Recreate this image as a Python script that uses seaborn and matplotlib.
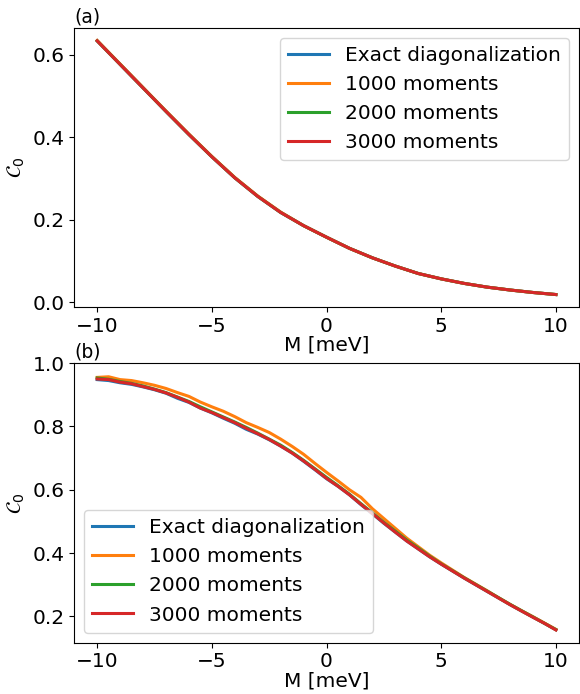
import numpy as np
import pandas as pd
import matplotlib
matplotlib.use("Agg")
import matplotlib.pyplot as plt
import seaborn as sns

labels = ["Exact diagonalization", "1000 moments", "2000 moments", "3000 moments"]

# panel (a): all four curves lie on top of each other
m_top = [-10, -9, -8, -7, -6, -5, -4, -3, -2, -1, 0, 1, 2, 3, 4, 5, 6, 7, 8, 9, 10]
top_exact = [0.634, 0.577, 0.520, 0.463, 0.407, 0.353, 0.302, 0.257, 0.218, 0.186, 0.158,
             0.131, 0.108, 0.088, 0.070, 0.057, 0.046, 0.037, 0.030, 0.024, 0.019]
top_1000 = [0.635, 0.578, 0.521, 0.464, 0.408, 0.354, 0.303, 0.258, 0.219, 0.186, 0.158,
            0.131, 0.108, 0.088, 0.070, 0.057, 0.046, 0.037, 0.030, 0.024, 0.019]
top_2000 = [0.634, 0.577, 0.520, 0.463, 0.407, 0.353, 0.302, 0.257, 0.218, 0.186, 0.158,
            0.131, 0.108, 0.088, 0.070, 0.057, 0.046, 0.037, 0.030, 0.024, 0.019]
top_3000 = [0.634, 0.577, 0.520, 0.463, 0.407, 0.353, 0.302, 0.257, 0.218, 0.186, 0.158,
            0.131, 0.108, 0.088, 0.070, 0.057, 0.046, 0.037, 0.030, 0.024, 0.019]

# panel (b)
m_bot = [-10, -9.5, -9, -8.5, -8, -7.5, -7, -6.5, -6, -5.5, -5, -4.5, -4, -3.5, -3, -2.5, -2,
         -1.5, -1, -0.5, 0, 0.5, 1, 1.5, 2, 2.5, 3, 3.5, 4, 4.5, 5, 5.5, 6, 6.5, 7, 7.5, 8,
         8.5, 9, 9.5, 10]
bot_exact = [0.948, 0.945, 0.938, 0.933, 0.925, 0.916, 0.905, 0.889, 0.876, 0.858, 0.843,
             0.826, 0.810, 0.791, 0.776, 0.758, 0.738, 0.716, 0.690, 0.663, 0.635, 0.611,
             0.584, 0.553, 0.524, 0.494, 0.466, 0.438, 0.413, 0.388, 0.365, 0.343, 0.321,
             0.300, 0.279, 0.258, 0.237, 0.217, 0.198, 0.178, 0.158]
bot_1000 = [0.955, 0.957, 0.948, 0.945, 0.938, 0.930, 0.920, 0.907, 0.895, 0.877, 0.862,
            0.848, 0.831, 0.812, 0.797, 0.781, 0.760, 0.737, 0.712, 0.683, 0.655, 0.628,
            0.600, 0.576, 0.540, 0.509, 0.478, 0.447, 0.420, 0.393, 0.369, 0.346, 0.323,
            0.302, 0.281, 0.259, 0.238, 0.218, 0.199, 0.179, 0.159]
bot_2000 = [0.953, 0.949, 0.942, 0.936, 0.928, 0.918, 0.907, 0.893, 0.879, 0.862, 0.846,
            0.830, 0.814, 0.797, 0.779, 0.760, 0.741, 0.718, 0.693, 0.666, 0.639, 0.613,
            0.586, 0.556, 0.527, 0.497, 0.469, 0.441, 0.416, 0.390, 0.366, 0.344, 0.322,
            0.301, 0.280, 0.259, 0.238, 0.218, 0.198, 0.178, 0.158]
bot_3000 = [0.950, 0.948, 0.940, 0.935, 0.926, 0.917, 0.906, 0.892, 0.877, 0.858, 0.844,
            0.828, 0.812, 0.794, 0.777, 0.759, 0.738, 0.716, 0.691, 0.664, 0.636, 0.611,
            0.584, 0.554, 0.525, 0.495, 0.466, 0.438, 0.413, 0.388, 0.365, 0.343, 0.321,
            0.300, 0.279, 0.258, 0.237, 0.217, 0.197, 0.178, 0.157]

plt.rcParams["font.size"] = 14.5
plt.rcParams["font.family"] = ["DejaVu Sans"]
colors = sns.color_palette("tab10", 4)

fig, (ax1, ax2) = plt.subplots(2, 1, figsize=(5.8, 6.94), dpi=100)
fig.subplots_adjust(left=0.128, right=0.998, top=0.960, bottom=0.074, hspace=0.2)

for ys, lab, c in zip([top_exact, top_1000, top_2000, top_3000], labels, colors):
    sns.lineplot(x=m_top, y=ys, ax=ax1, color=c, linewidth=2.2, label=lab)
for ys, lab, c in zip([bot_exact, bot_1000, bot_2000, bot_3000], labels, colors):
    sns.lineplot(x=m_bot, y=ys, ax=ax2, color=c, linewidth=2.2, label=lab)

ax1.legend(loc="upper right", fontsize=14.5)
ax2.legend(loc="lower left", fontsize=14.5)

for ax, tag in [(ax1, "(a)"), (ax2, "(b)")]:
    ax.set_xlabel("M [meV]", labelpad=0)
    ax.set_ylabel(r"$\mathcal{C}_0$")
    ax.set_title(tag, loc="left", fontsize=13.5, pad=4)
    ax.set_xticks([-10, -5, 0, 5, 10])

ax1.set_yticks([0.0, 0.2, 0.4, 0.6])
ax2.set_yticks([0.2, 0.4, 0.6, 0.8, 1.0])

plt.savefig("out.png")
